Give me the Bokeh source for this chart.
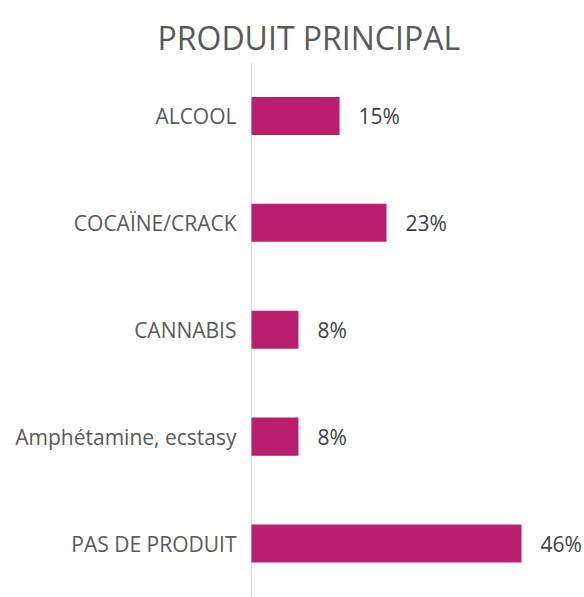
from bokeh.plotting import figure
from bokeh.models import Range1d, FixedTicker, ColumnDataSource
from bokeh.core.properties import value
from bokeh.embed import file_html
from bokeh.resources import INLINE

categories = ["ALCOOL", "COCAÏNE/CRACK", "CANNABIS", "Amphétamine, ecstasy", "PAS DE PRODUIT"]
values = [15, 23, 8, 8, 46]
title_text = "PRODUIT PRINCIPAL"

positions = list(range(len(categories)))
labels = [f"{v}%" for v in values]
src = ColumnDataSource(dict(y=positions, v=values, lab=labels))

FONT = "Open Sans"
p = figure(width=584, height=597, output_backend="svg", toolbar_location=None,
           x_range=Range1d(-0.17, 56.73), y_range=Range1d(4.505, -0.5),
           min_border_left=250, min_border_right=0, min_border_bottom=0, min_border_top=62,
           title=title_text)
p.outline_line_color = None
p.background_fill_color = "white"
p.border_fill_color = "white"

p.title.text_font = FONT
p.title.text_font_size = "32px"
p.title.text_font_style = "normal"
p.title.text_color = "#595959"
p.title.align = "left"
p.title.vertical_align = "top"
p.title.offset = -93
p.title.standoff = 4

p.hbar(y="y", right="v", left=0, height=0.356, source=src, color="#BA1E6F", line_color=None)
p.text(x="v", y="y", text="lab", source=src, x_offset=19, text_baseline="middle",
       text_align="left", text_font=value(FONT), text_font_size="21px", text_color="#404040")

p.xaxis.visible = False
yax = p.yaxis[0]
yax.ticker = FixedTicker(ticks=positions)
yax.major_label_overrides = {i: c for i, c in zip(positions, categories)}
yax.axis_line_color = None
yax.major_tick_line_color = None
yax.minor_tick_line_color = None
yax.major_tick_out = 0
yax.major_tick_in = 0
yax.major_label_standoff = 14
yax.major_label_text_font = FONT
yax.major_label_text_font_size = "21px"
yax.major_label_text_color = "#595959"

p.xgrid.ticker = FixedTicker(ticks=[0])
p.xgrid.grid_line_color = "#D9D9D9"
p.ygrid.grid_line_color = None

open("out.html", "w").write(file_html(p, INLINE))
